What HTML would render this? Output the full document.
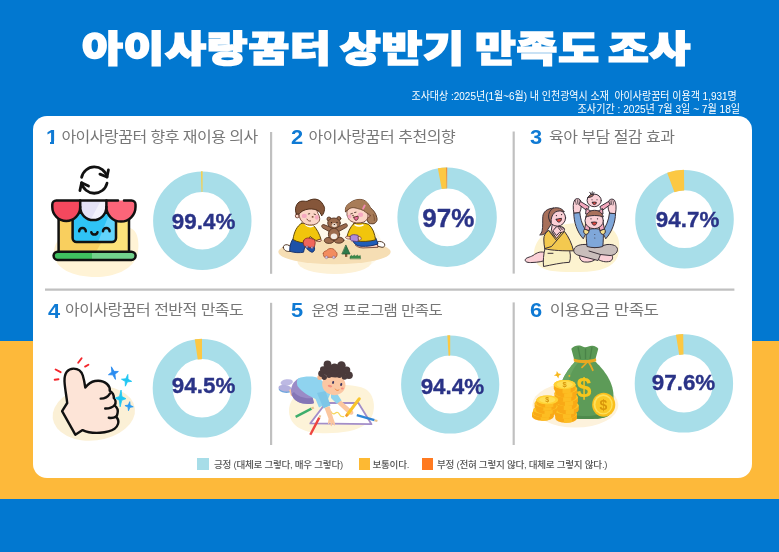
<!DOCTYPE html>
<html lang="ko">
<head>
<meta charset="utf-8">
<title>아이사랑꿈터 상반기 만족도 조사</title>
<style>
html,body{margin:0;padding:0;}
body{width:779px;height:552px;position:relative;overflow:hidden;background:#0278d0;font-family:"Liberation Sans","Noto Sans CJK KR",sans-serif;}
.band{position:absolute;left:0;top:340.5px;width:779px;height:158.5px;background:#fdb93a;}
.card{position:absolute;left:32.5px;top:115.7px;width:719.2px;height:362.8px;background:#fff;border-radius:14px;}
.title{position:absolute;top:20px;color:#fff;font-family:"Liberation Sans","Noto Sans CJK KR",sans-serif;font-weight:900;font-size:41px;line-height:60px;white-space:nowrap;letter-spacing:0.8px;-webkit-text-stroke:1.9px #fff;transform:scale(1.08,0.88);transform-origin:0 50%;}
.sub{position:absolute;right:40.5px;color:#fff;font-size:11.5px;line-height:13px;white-space:nowrap;text-align:right;transform:scaleX(0.85);transform-origin:100% 50%;}
.num{position:absolute;color:#0f7ad4;font-weight:bold;font-size:19.5px;line-height:20px;white-space:nowrap;transform:scaleX(1.12);transform-origin:0 50%;}
.hd{position:absolute;color:#777;font-family:"Liberation Sans","Noto Sans CJK KR",sans-serif;font-weight:400;font-size:16px;line-height:20px;white-space:nowrap;letter-spacing:-0.52px;transform:scaleY(0.9);transform-origin:0 50%;}
.pct{position:absolute;color:#2a3387;-webkit-text-stroke:0.35px #2a3387;font-weight:bold;font-size:22.4px;line-height:24px;white-space:nowrap;text-align:center;transform:translateX(-50%);}
.lg{position:absolute;top:458px;color:#555;font-family:"Liberation Sans","Noto Sans CJK KR",sans-serif;font-weight:500;font-size:9.6px;line-height:14px;white-space:nowrap;letter-spacing:-0.28px;}
.sq{position:absolute;top:458.3px;width:11.7px;height:11.7px;}
svg.art{position:absolute;left:0;top:0;width:779px;height:552px;}
</style>
</head>
<body>
<div class="band"></div>
<div class="card"></div>

<div class="title" style="left:82.3px;">아이사랑꿈터</div>
<div class="title" style="left:339.9px;">상반기</div>
<div class="title" style="left:475px;">만족도</div>
<div class="title" style="left:607.5px;">조사</div>
<div class="sub" style="top:89.5px;right:41.9px;transform:scaleX(0.868);">조사대상 :2025년(1월~6월) 내 인천광역시 소재&nbsp; 아이사랑꿈터 이용객 1,931명</div>
<div class="sub" style="top:102.5px;right:39.3px;transform:scaleX(0.878);">조사기간 : 2025년 7월 3일 ~ 7월 18일</div>

<svg class="art" viewBox="0 0 779 552">
  <!-- dividers -->
  <g stroke="#c0c0c0" stroke-width="2.2" fill="none">
    <line x1="45" y1="289.6" x2="734.4" y2="289.6"/>
    <line x1="271.1" y1="132" x2="271.1" y2="273.8"/>
    <line x1="513.7" y1="131.5" x2="513.7" y2="273.6"/>
    <line x1="271.1" y1="302.8" x2="271.1" y2="445"/>
    <line x1="513.7" y1="302.4" x2="513.7" y2="445"/>
  </g>
  <!-- ART1 -->
  <g id="art1">
    <path d="M54 253C54 237 70 227 97 227.500C112 227.500 126 224.500 133 229.500C139.500 234.500 139.500 249 136.500 257C131.500 270 114 277 96 277C72 277 54 268 54 253Z" fill="#fff3d6"/>
    <g fill="none" stroke="#111" stroke-width="2.8" stroke-linecap="round" stroke-linejoin="round">
      <path d="M81.6 177.4A13 13 0 0 1 107 177"/>
      <path d="M107 183.2A13 13 0 0 1 81.6 182.8"/>
      <path d="M99.9 174.1L107 177L108.4 169.9"/>
      <path d="M88.5 186.1L81.6 182.8L79.9 190.6"/>
    </g>
    <rect x="58.6" y="212" width="70.4" height="40" fill="#f9cf5e"/>
    <path d="M96 252L118 212H129V252Z" fill="#fce37a"/>
    <rect x="72.6" y="212" width="43.4" height="30" rx="4" fill="#2fc3f5"/>
    <path d="M98 242L110 212H116V238A4 4 0 0 1 112 242Z" fill="#62d4fb"/>
    <g fill="none" stroke="#111" stroke-width="2.5" stroke-linecap="round" stroke-linejoin="round">
      <path d="M58.6 218V251.7M129 218V251.7"/>
      <path d="M72.6 220V238A4 4 0 0 0 76.6 242H112A4 4 0 0 0 116 238V220"/>
      <path d="M79.2 231.3A3.3 3.3 0 0 1 85.8 231.3M103 231.3A3.3 3.3 0 0 1 109.6 231.3M91.3 232.2A3.2 3.2 0 0 0 97.5 232.2"/>
    </g>
    <rect x="53.6" y="251.7" width="82" height="8.2" rx="4.1" fill="#3fbf5f"/>
    <path d="M92 251.7H131.5A4.1 4.1 0 0 1 131.5 259.9H92Z" fill="#72d18c"/>
    <rect x="53.6" y="251.7" width="82" height="8.2" rx="4.1" fill="none" stroke="#111" stroke-width="2.5"/>
    <path d="M52.3 204.5A4 4 0 0 1 56.3 200.5H80.2V207A13.9 13.9 0 0 1 52.3 207Z" fill="#f4485e"/>
    <path d="M80.2 200.5H106.4V207A13.1 13.1 0 0 1 80.2 207Z" fill="#e4e2f6"/>
    <path d="M91 219L101 200.5H106.4V207A13.1 13.1 0 0 1 91 219Z" fill="#f3f2fc"/>
    <path d="M106.4 200.5H131.5A4 4 0 0 1 135.5 204.5V207A14.5 14.5 0 0 1 106.4 207Z" fill="#fb6579"/>
    <g fill="none" stroke="#111" stroke-width="2.5" stroke-linecap="round" stroke-linejoin="round">
      <path d="M56.3 200.5H118M124 200.5H131.5A4 4 0 0 1 135.5 204.5V207A14.5 14.5 0 0 1 106.4 207A13.1 13.1 0 0 1 80.2 207A13.9 13.9 0 0 1 52.3 207V204.5A4 4 0 0 1 56.3 200.5"/>
      <path d="M80.2 200.5V207M106.4 200.5V207"/>
    </g>
  </g>
  <!-- /ART1 -->
  <!-- ART4 -->
  <g id="art4">
    <ellipse cx="93.8" cy="413.3" rx="41.4" ry="27.2" fill="#fbf0d6" transform="rotate(-7 93.8 413.3)"/>
    <path d="M75.3 434.7L62.1 411.1L67.2 403C66.5 396 64.8 388 64.5 381.2C64.2 373 68 368.6 73.5 368.6C79 368.6 81.6 371.5 82.8 375.5C84 379.5 84.8 384 85.3 387.6C88 384 91 381.6 95 381C99.5 380.3 104 381.2 107 384C109.2 386 110.2 388 109.7 390.8C112.5 392.5 114 395 113.8 398C115.8 400 116 403 114.6 405.4C117.2 407.5 118.3 410 117.6 413C117.3 414.8 116.8 416 116.1 417C118.3 419 118.8 421.5 118 424C117.2 426.5 116.2 427.8 114.6 428.8C110.5 431.5 105 432.4 100 432.8C94 433.2 87.5 432.5 82.6 430.1Z" fill="#fde4d7" stroke="#111" stroke-width="2.4" stroke-linejoin="round"/>
    <g fill="none" stroke="#111" stroke-width="2.4" stroke-linecap="round">
      <path d="M100.7 398.6C104.5 398.6 107.8 397 109.9 393.6"/>
      <path d="M105.2 408.5C109 408.6 112.4 407.6 114.5 405.3"/>
      <path d="M108.8 417.8C111.5 418.2 114.2 417.8 116.2 416.4"/>
    </g>
    <g fill="none" stroke="#f3262b" stroke-width="1.9" stroke-linecap="round">
      <path d="M55.6 369.5L60.6 372.2M54.7 379.8L58.5 379.2M78.2 362.8L81.6 358.2M85.1 366.6L88.4 364.7"/>
    </g>
    <path d="M0.00 -6.60L1.14 -1.45L5.20 0.00L1.14 1.45L0.00 6.60L-1.14 1.45L-5.20 0.00L-1.14 -1.45Z" transform="translate(113.4 373.1) rotate(-18)" fill="#2b8cf0" stroke="#2b8cf0" stroke-width="0.8" stroke-linejoin="round"/>
    <path d="M0.00 -6.00L1.14 -1.32L5.20 0.00L1.14 1.32L0.00 6.00L-1.14 1.32L-5.20 0.00L-1.14 -1.32Z" transform="translate(126.6 380.3) rotate(12)" fill="#1fc6f2" stroke="#1fc6f2" stroke-width="0.8" stroke-linejoin="round"/>
    <path d="M0.00 -8.40L1.19 -1.85L5.40 0.00L1.19 1.85L0.00 8.40L-1.19 1.85L-5.40 0.00L-1.19 -1.85Z" transform="translate(120.6 398.4) rotate(3)" fill="#1fc6f2" stroke="#1fc6f2" stroke-width="0.8" stroke-linejoin="round"/>
    <path d="M0.00 -4.60L0.92 -1.01L4.20 0.00L0.92 1.01L0.00 4.60L-0.92 1.01L-4.20 0.00L-0.92 -1.01Z" transform="translate(129.1 406.2) rotate(8)" fill="#2b9cf2" stroke="#2b9cf2" stroke-width="0.8" stroke-linejoin="round"/>
  </g>
  <!-- /ART4 -->
  <!-- ART6 -->
  <g id="art6">
    <ellipse cx="575.4" cy="405" rx="43" ry="22.600" fill="#fdf2dc"/>
    <path d="M574.3 360L571.3 348.8C574 345.5 577.5 345 580 345.6C582 346.2 583.5 347.4 585.2 347.3C587.5 347.2 589.5 345.6 592.5 345.8C595 346 597 347 598.3 348.8L595.2 360Z" fill="#5a9855"/>
    <path d="M578 347L580.5 359M585.5 348.5V359M592 347L590 359" stroke="#4a8348" stroke-width="1.3" fill="none"/>
    <path d="M575.3 361.5C570 367 559 380 559 396C559 406 561 413 565 416C570 419 580 419 586 419C593 419 603 419 608 416C612 413 613.5 406 613.5 396C613.5 380 601 367 595.2 361.5Z" fill="#5d9b58"/>
    <path d="M575.3 361.5C570 367 559 380 559 396C559 406 561 413 565 416C570 419 580 419 586 419C576 417 568 410 567 398C566 384 571 370 579 361.5Z" fill="#6aa663"/>
    <path d="M565 416C570 419 580 419 586 419C593 419 603 419 608 416C610 414.500 611.5 412 612.300 409C606 414 596 416 586 416C576 416 567 414 561.500 410C562.300 412.500 563.500 415 565 416Z" fill="#4f8b4c"/>
    <path d="M573.6 358.4C580 360.6 590 360.6 596 358.2L596.300 361.300C590 363.800 580 363.800 573.900 361.600Z" fill="#e9a822"/>
    <path d="M588 361C590 364 591.500 367 592.800 370.200M588 361C586 363.500 584 365.500 582 367.400" stroke="#e9a822" stroke-width="1.8" fill="none" stroke-linecap="round"/>
    <text x="584" y="397.300" text-anchor="middle" font-family="Liberation Sans, sans-serif" font-weight="bold" font-size="27" fill="#f6c61b">$</text>
    <path d="M555.20 414.00V418.20A10.9 4.6 0 0 0 577.00 418.20V414.00Z" fill="#f9a916"/>
    <path d="M563.92 418.37V422.71A10.9 4.6 0 0 0 572.10 422.06V417.68Z" fill="#fdbd22"/>
    <ellipse cx="566.10" cy="414.00" rx="10.9" ry="4.6" fill="#fcc326"/>
    <path d="M554.20 409.80V414.00A10.9 4.6 0 0 0 576.00 414.00V409.80Z" fill="#f9a916"/>
    <path d="M562.92 414.17V418.51A10.9 4.6 0 0 0 571.10 417.86V413.48Z" fill="#fdbd22"/>
    <ellipse cx="565.10" cy="409.80" rx="10.9" ry="4.6" fill="#fcc326"/>
    <path d="M557.00 405.60V409.80A10.9 4.6 0 0 0 578.80 409.80V405.60Z" fill="#f9a916"/>
    <path d="M565.72 409.97V414.31A10.9 4.6 0 0 0 573.90 413.66V409.28Z" fill="#fdbd22"/>
    <ellipse cx="567.90" cy="405.60" rx="10.9" ry="4.6" fill="#fcc326"/>
    <path d="M555.00 401.40V405.60A10.9 4.6 0 0 0 576.80 405.60V401.40Z" fill="#f9a916"/>
    <path d="M563.72 405.77V410.11A10.9 4.6 0 0 0 571.90 409.46V405.08Z" fill="#fdbd22"/>
    <ellipse cx="565.90" cy="401.40" rx="10.9" ry="4.6" fill="#fcc326"/>
    <path d="M556.20 397.20V401.40A10.9 4.6 0 0 0 578.00 401.40V397.20Z" fill="#f9a916"/>
    <path d="M564.92 401.57V405.91A10.9 4.6 0 0 0 573.10 405.26V400.88Z" fill="#fdbd22"/>
    <ellipse cx="567.10" cy="397.20" rx="10.9" ry="4.6" fill="#fcc326"/>
    <path d="M554.40 393.00V397.20A10.9 4.6 0 0 0 576.20 397.20V393.00Z" fill="#f9a916"/>
    <path d="M563.12 397.37V401.71A10.9 4.6 0 0 0 571.30 401.06V396.68Z" fill="#fdbd22"/>
    <ellipse cx="565.30" cy="393.00" rx="10.9" ry="4.6" fill="#fcc326"/>
    <path d="M555.40 388.80V393.00A10.9 4.6 0 0 0 577.20 393.00V388.80Z" fill="#f9a916"/>
    <path d="M564.12 393.17V397.51A10.9 4.6 0 0 0 572.30 396.86V392.48Z" fill="#fdbd22"/>
    <ellipse cx="566.30" cy="388.80" rx="10.9" ry="4.6" fill="#fcc326"/>
    <path d="M553.80 384.60V388.80A10.9 4.6 0 0 0 575.60 388.80V384.60Z" fill="#f9a916"/>
    <path d="M562.52 388.97V393.31A10.9 4.6 0 0 0 570.70 392.66V388.28Z" fill="#fdbd22"/>
    <ellipse cx="564.70" cy="384.60" rx="10.9" ry="4.6" fill="#fcc326"/>
    <ellipse cx="564.7" cy="384.6" rx="10.9" ry="4.6" fill="#ffd234"/>
    <ellipse cx="564.7" cy="384.6" rx="8.07" ry="3.31" fill="#ffdf55"/>
    <text x="564.7" y="387.2" text-anchor="middle" font-family="Liberation Sans, sans-serif" font-weight="bold" font-size="7.5" fill="#d8960a">$</text>
    <path d="M532.00 413.00V416.30A10.9 4.4 0 0 0 553.80 416.30V413.00Z" fill="#f9a916"/>
    <path d="M540.72 417.18V420.61A10.9 4.4 0 0 0 548.89 420.00V416.52Z" fill="#fdbd22"/>
    <ellipse cx="542.90" cy="413.00" rx="10.9" ry="4.4" fill="#fcc326"/>
    <path d="M533.20 409.70V413.00A10.9 4.4 0 0 0 555.00 413.00V409.70Z" fill="#f9a916"/>
    <path d="M541.92 413.88V417.31A10.9 4.4 0 0 0 550.09 416.70V413.22Z" fill="#fdbd22"/>
    <ellipse cx="544.10" cy="409.70" rx="10.9" ry="4.4" fill="#fcc326"/>
    <path d="M535.80 406.40V409.70A10.9 4.4 0 0 0 557.60 409.70V406.40Z" fill="#f9a916"/>
    <path d="M544.52 410.58V414.01A10.9 4.4 0 0 0 552.69 413.40V409.92Z" fill="#fdbd22"/>
    <ellipse cx="546.70" cy="406.40" rx="10.9" ry="4.4" fill="#fcc326"/>
    <path d="M534.60 403.10V406.40A10.9 4.4 0 0 0 556.40 406.40V403.10Z" fill="#f9a916"/>
    <path d="M543.32 407.28V410.71A10.9 4.4 0 0 0 551.50 410.10V406.62Z" fill="#fdbd22"/>
    <ellipse cx="545.50" cy="403.10" rx="10.9" ry="4.4" fill="#fcc326"/>
    <path d="M536.40 399.80V403.10A10.9 4.4 0 0 0 558.20 403.10V399.80Z" fill="#f9a916"/>
    <path d="M545.12 403.98V407.41A10.9 4.4 0 0 0 553.29 406.80V403.32Z" fill="#fdbd22"/>
    <ellipse cx="547.30" cy="399.80" rx="10.9" ry="4.4" fill="#fcc326"/>
    <ellipse cx="547.3" cy="399.8" rx="10.9" ry="4.4" fill="#ffd234"/>
    <ellipse cx="547.3" cy="399.8" rx="8.07" ry="3.17" fill="#ffdf55"/>
    <text x="547.3" y="402.2" text-anchor="middle" font-family="Liberation Sans, sans-serif" font-weight="bold" font-size="7" fill="#d8960a">$</text>
    <ellipse cx="603.7" cy="404.7" rx="11.6" ry="12" fill="#f9bf1c"/>
    <ellipse cx="603.2" cy="404.4" rx="9.6" ry="10.2" fill="#fde05a"/>
    <ellipse cx="603.4" cy="404.6" rx="8" ry="8.600" fill="#fbc926"/>
    <text x="603.5" y="409.700" text-anchor="middle" font-family="Liberation Sans, sans-serif" font-weight="bold" font-size="14" fill="#d8960a">$</text>
    <path d="M557.6 371L558.700 373.700L561.400 374.800L558.700 375.900L557.600 378.600L556.500 375.900L553.800 374.800L556.500 373.700Z" fill="#f8b81c" transform="rotate(-12 557.6 374.8)"/>
    <path d="M569.3 374.700L570.500 375.900L569.300 377.100L568.100 375.900Z" fill="#f8b81c"/>
  </g>
  <!-- /ART6 -->
  <!-- ART5 -->
  <g id="art5">
    <path d="M289 412C288 399 300 388 322 386C340 384.500 362 384 369 392C376 400 376 416 366 424C356 432 336 434 318 433C300 432 290 424 289 412Z" fill="#fdf3d8"/>
    <path d="M325.8 403H358.4L371.5 424.2L310.3 423.4Z" fill="#fff" stroke="#a38ec9" stroke-width="1.800" stroke-linejoin="round"/>
    <path d="M330.7 411.300C332 414 334 414.500 335.500 413C337 411.600 338.500 412.500 339.500 414.500C340.500 416.300 342 417 343.700 416.600" fill="none" stroke="#f6d75a" stroke-width="1.3" stroke-linecap="round"/>
    <!-- shoes and legs -->
    <ellipse cx="286.7" cy="382.4" rx="6.2" ry="3.1" fill="#bdb9e3" transform="rotate(-8 286.7 382.4)"/>
    <ellipse cx="285.2" cy="389.600" rx="6.600" ry="3.300" fill="#6fa6dd" transform="rotate(8 285.2 389.600)"/>
    <ellipse cx="285" cy="388.200" rx="6.600" ry="3.300" fill="#b4b0de" transform="rotate(8 285 388.200)"/>
    <path d="M289 390L294 388L297 396L291 396Z" fill="#fbc7a0"/>
    <!-- pants -->
    <path d="M297 379.500C292 383 290 389 291.500 394C293 399 297 402.500 303 403.500C308 404.300 312 404 314 403L311 390L300 378Z" fill="#9a8bc7"/>
    <path d="M291.500 394C293 399 297 402.500 303 403.500C308 404.300 312 404 314 403L312.500 398C306 399 298 397 294 392Z" fill="#8576b6"/>
    <!-- shirt body -->
    <path d="M298 378.500C303 376.500 310 376 315 377C320 378 324 382 326.500 386L331 392L326 404L319 407.500L315.500 399C309 396 302 392 297.500 386C296.500 383 296.800 380 298 378.500Z" fill="#8fd3ef"/>
    <!-- left arm down -->
    <path d="M317 393L325.500 391L330.500 405.500L323.500 408.500Z" fill="#7ec6e6"/>
    <path d="M324.500 408L329.500 406L333.500 419C334.500 421.500 335.500 424 335 425.500C334 425.800 333.200 424.500 332.500 423C332.300 424.800 332 426.300 331 426.200C330.300 425 330.500 423.500 330.300 422C329.500 423.500 328.800 424.300 328 424C328 422 328.500 420 328.500 418.500Z" fill="#fbc7a0"/>
    <!-- right arm -->
    <path d="M331 392L337 393.500L341.500 400.500L337 404L331 398Z" fill="#8fd3ef"/>
    <path d="M337.200 403.500L341 400.800L350.500 409C352.500 410 353.800 411.500 353.300 413.500C352.300 415.300 349.800 415 348 413.500Z" fill="#fbc7a0"/>
    <!-- neck / face -->
    <circle cx="319.800" cy="377.600" r="2.500" fill="#f5b98f"/>
    <ellipse cx="333.800" cy="384.600" rx="11.700" ry="10.500" fill="#fbc7a3" transform="rotate(12 333.8 384.6)"/>
    <!-- hair -->
    <g fill="#4a3a3b">
      <ellipse cx="335.300" cy="370.800" rx="12.500" ry="6.600"/>
      <circle cx="327.500" cy="364.500" r="3.900"/>
      <circle cx="341.400" cy="365.500" r="4.300"/>
      <circle cx="349" cy="375.300" r="3.800"/>
      <circle cx="346.700" cy="370" r="3.600"/>
      <circle cx="321.600" cy="373.600" r="3.400"/>
      <circle cx="323.300" cy="369.600" r="3.300"/>
      <circle cx="334.500" cy="367" r="3.600"/>
      <circle cx="324.300" cy="377.300" r="2.600"/>
      <circle cx="344.500" cy="377" r="2.800"/>
      <circle cx="329" cy="375.300" r="2.600"/>
      <circle cx="339.500" cy="375.300" r="2.600"/>
    </g>
    <ellipse cx="333.100" cy="382.400" rx="1" ry="1.500" fill="#3b3560" transform="rotate(15 333.1 382.4)"/>
    <ellipse cx="341.200" cy="384.500" rx="1" ry="1.500" fill="#3b3560" transform="rotate(15 341.2 384.5)"/>
    <ellipse cx="330" cy="386.100" rx="2.300" ry="1.200" fill="#f58f7f" transform="rotate(12 330 386.1)"/>
    <ellipse cx="342.300" cy="388.500" rx="1.500" ry="1.100" fill="#f58f7f"/>
    <path d="M335.200 389C335.800 390.500 337.800 391 339 389.900" fill="none" stroke="#f0873f" stroke-width="0.900" stroke-linecap="round"/>
    <!-- pencils -->
    <path d="M295.600 416.900L311.500 408.600" stroke="#3eae6c" stroke-width="2.400" stroke-linecap="butt"/>
    <path d="M311.500 408.600L313.800 407.400" stroke="#e9c48f" stroke-width="2.200"/>
    <path d="M310.300 434.800L319.300 417.600" stroke="#ee4540" stroke-width="2.400"/>
    <path d="M319.300 417.600L320.400 415.400" stroke="#e9c48f" stroke-width="2"/>
    <path d="M347.300 414.600L359.200 398.900" stroke="#f9c52b" stroke-width="3.200" stroke-linecap="round"/>
    <path d="M345.900 416.500L347.500 414.300" stroke="#f29a2e" stroke-width="2.400"/>
    <path d="M356.800 415.200L374.500 420.200" stroke="#2f86d6" stroke-width="2.400"/>
    <path d="M374.500 420.200L377.400 421" stroke="#e9c48f" stroke-width="2"/>
  </g>
  <!-- /ART5 -->
  <!-- ART2 -->
  <g id="art2" stroke-linejoin="round" stroke-linecap="round">
    <ellipse cx="338" cy="246" rx="44" ry="28" fill="#fef9ec"/>
    <ellipse cx="334.500" cy="262" rx="37" ry="12" fill="#fdf1d6"/>
    <ellipse cx="334.500" cy="252" rx="56.200" ry="12.200" fill="#f6deb4"/>
    <!-- teddy -->
    <g fill="#9b6b4d" stroke="#5a3a28" stroke-width="0.950">
      <path d="M331 232.500L322.800 228C321 227 321.600 224.200 323.800 224.600L332.500 228Z"/>
      <path d="M337 232.500L346.300 227.300C348.200 226.200 347.400 223.300 345.200 223.800L335.500 228Z"/>
      <ellipse cx="329.300" cy="240.400" rx="4.900" ry="3"/>
      <ellipse cx="339" cy="240.200" rx="4.900" ry="3"/>
      <ellipse cx="334" cy="234.300" rx="5.600" ry="6"/>
      <circle cx="329" cy="219" r="2"/>
      <circle cx="338.800" cy="218.500" r="2"/>
      <ellipse cx="334" cy="223.100" rx="6.300" ry="5.100"/>
    </g>
    <ellipse cx="334" cy="236.300" rx="3.200" ry="2.800" fill="#f3ebe3"/>
    <ellipse cx="334.400" cy="225.200" rx="2.600" ry="2.100" fill="#ead8c8"/>
    <circle cx="331.500" cy="222.600" r="0.550" fill="#2a1a12"/><circle cx="337" cy="222.400" r="0.550" fill="#2a1a12"/>
    <ellipse cx="334.400" cy="224.500" rx="0.800" ry="0.550" fill="#2a1a12"/>
    <!-- boy -->
    <path d="M283.300 247.500C283 245.500 285 244.300 287.500 244.800L291 246.500L290 251.300C287 252 283.800 250.500 283.300 247.500Z" fill="#fff" stroke="#4a3020" stroke-width="0.950"/>
    <path d="M292.500 239.500C290.500 243 289.500 247 289.800 251.300C294 252.800 300 253 303.500 252.200C304 250 304.500 248 305 246.500C307 249 309.500 251.500 312 252.300C314 252 315 250 314.500 247.500L312.500 241.500Z" fill="#1e52a8" stroke="#16306a" stroke-width="0.950"/>
    <path d="M301.500 223.300C297 226 294 232 293 239.500C297 242 303 243.300 308 243L310 236.500C312 238 314 239.500 316.500 240.800L321 239.300C319.500 234 316.500 228.500 313.500 225.500C310 223.500 305 222.800 301.500 223.300Z" fill="#f1c50c" stroke="#5a4208" stroke-width="0.950"/>
    <path d="M316.300 240.800C317.500 241.800 320 242 321.200 240.800C321.600 240 321.300 239.400 320.800 239.200Z" fill="#fbd0c0" stroke="#6a3a2a" stroke-width="0.850"/>
    <path d="M305.500 224.500C307.500 226.500 310.500 227 313 226" fill="none" stroke="#fff" stroke-width="1.600"/>
    <path d="M303.500 241C304 238.500 307 237.500 310 238.200L313.500 239.300C315 240 315.500 242 315 244C314.800 246 314 247.500 312.500 247.800L305 246.500C303.500 245.500 303 243 303.500 241Z" fill="#f0655b" stroke="#8a2a24" stroke-width="0.850"/>
    <circle cx="307" cy="246.800" r="1.100" fill="#c9b6d9" stroke="#6a4a6a" stroke-width="0.400"/><circle cx="312" cy="247.600" r="1.100" fill="#c9b6d9" stroke="#6a4a6a" stroke-width="0.400"/>
    <circle cx="297.300" cy="215.900" r="2" fill="#fbd5c6" stroke="#6a3a2a" stroke-width="0.850"/>
    <path d="M299.300 211C298.300 214.500 299.300 218.500 302 221.600C304 223.800 306.500 224.900 309.500 225C312.500 225.100 315 224.600 316.800 223.500C318.800 222.300 319.800 220.500 319.700 218.500C319.600 216.500 318.800 215 318 213.500L316 208L303 208Z" fill="#fbd5c6" stroke="#6a3a2a" stroke-width="0.850"/>
    <ellipse cx="304.300" cy="215.900" rx="2.600" ry="2.200" fill="#f6a9c1"/>
    <ellipse cx="316.800" cy="217.300" rx="1.900" ry="2.400" fill="#f6a9c1"/>
    <path d="M296.300 214C295.300 211.500 295.300 208.500 296 206.400C297 203.500 298.800 201.800 300.800 201.300C303 200.700 305 201.500 307.100 201.300C309.500 200 312.500 198.900 315.300 199.100C318.800 199.400 321.500 201.500 323 204.500C324.300 206.500 324.800 208 324.500 209.600C324.300 212 323.300 214.300 321.700 215.900C320.800 213.500 319.500 211.800 317.900 210.700C316.800 210 315.500 209.500 314.100 209.300C312.500 209 310.800 208.900 309 209C306.800 209.200 304.600 209.900 302.700 210.900C301.500 211.600 300.400 212.600 299.500 213.600C298.500 214.200 297.300 214.300 296.300 214Z" fill="#85563a" stroke="#4a2a16" stroke-width="0.950"/>
    <path d="M308.300 214L309.700 213.700M314.100 214.100L315.400 214.500" stroke="#3a2218" stroke-width="0.800" fill="none"/>
    <ellipse cx="312.600" cy="216.900" rx="1" ry="0.800" fill="#7a4a35"/>
    <path d="M307 219.100C307.600 220.600 309 221.300 310.500 221" fill="none" stroke="#5a2a1a" stroke-width="0.800"/>
    <!-- girl -->
    <path d="M377.600 241.800C380 240.800 383.500 241.800 384.600 244C385.200 246 384 247.500 382 247.300L378 246.300Z" fill="#fff" stroke="#4a3020" stroke-width="0.950"/>
    <path d="M355.500 245.300C358 247.800 362 248.300 366 247.800L378 247.300L377.500 244.500L358 243.500Z" fill="#fbd0c0" stroke="#6a3a2a" stroke-width="0.850"/>
    <path d="M352.600 240C353.500 243.500 356.500 246 361 246.300C367 246.600 373.500 245.800 378 243.800L375.800 238L356 238Z" fill="#1f5db9" stroke="#16306a" stroke-width="0.950"/>
    <path d="M353.500 223.800C350 227.500 347.800 232.500 347 236.800L351 238.300L353.800 235C354.300 237.500 354.800 239.500 355.200 240.800C362 242 370 241.500 375.500 239.800C375 234 372.500 227.500 368.500 224.300C364 222.500 357.500 222.500 353.500 223.800Z" fill="#f1c50c" stroke="#5a4208" stroke-width="0.950"/>
    <path d="M355 224.800C357.500 226.300 360.500 226.300 363 225" fill="none" stroke="#fff" stroke-width="1.500"/>
    <path d="M350 236.500C350.500 235 353 234.300 355.500 234.800L358 235.300C359 236 359.200 238 358.800 239.500C358.500 240.800 357.500 241.500 356.500 241.500L351.500 240.800C350 240 349.600 238 350 236.500Z" fill="#b08bd9" stroke="#5a3a7a" stroke-width="0.850"/>
    <path d="M345.800 236.800C346.500 236 348.500 236 350.200 236.800L350 239C348.500 239.300 346.500 238.800 345.800 238Z" fill="#fbd0c0" stroke="#6a3a2a" stroke-width="0.700"/>
    <path d="M358.300 236.500C359.500 236 361 236.800 361.300 238.300C361.300 239.800 360 240.500 358.800 240.300Z" fill="#fbd0c0" stroke="#6a3a2a" stroke-width="0.700"/>
    <path d="M345.400 211.500C345.200 210 345.400 208.500 346 207C346.800 205.300 348 204 349.500 203.200C352 201 355.500 199.600 359 199.400C361.500 199.300 363.800 199.900 365.300 201C367.500 202.600 369.200 205 370.400 207.700C373.400 209.800 376.200 213.800 376.900 217.800C377.300 219.200 377.100 220.500 376.400 221.600C375.600 222.800 374.400 223.600 373 223.800C371.300 224 369.800 223.600 368.500 222.900L364 214L348 210Z" fill="#a87c58" stroke="#5a3822" stroke-width="0.950"/>
    <circle cx="368.300" cy="215.600" r="1.800" fill="#fbd5c6" stroke="#6a3a2a" stroke-width="0.800"/>
    <path d="M347.800 209.500C346.800 211 346.700 212.500 347 213.400C346.800 215 347.200 216.300 347.900 217.200C348.300 218.800 349.300 220.100 350.800 221C352.500 222.100 354.500 222.700 356.500 222.900C359 223.100 361.500 222.900 363.400 222.200C365 221.500 366.300 220.500 367.200 219.100C368 217.500 368.200 215.500 367.800 213.500L364 207L352 206Z" fill="#fbd5c6" stroke="#6a3a2a" stroke-width="0.850"/>
    <path d="M345.400 211.500C345.200 210 345.400 208.500 346 207C346.800 205.300 348 204 349.500 203.200C352 201 355.500 199.600 359 199.400C361.500 199.300 363.800 199.900 365.300 201C367.500 202.600 369.200 205 370.400 207.700L368.300 214.200C367.800 213.500 367.300 213.200 366.600 213.100C365.800 212 364.700 211.200 363.400 210.500C361.700 209.600 359.700 209 357.700 208.600C355.800 208 353.800 207.500 352 207.700C350.500 207.900 349.200 208.600 348.200 209.600C347.300 210.300 346.300 211 345.400 211.500Z" fill="#a87c58" stroke="none"/>
    <path d="M368.300 214.200C367.800 213.500 367.300 213.200 366.600 213.100C365.800 212 364.700 211.200 363.400 210.500C361.700 209.600 359.700 209 357.700 208.600C355.800 208 353.800 207.500 352 207.700C350.500 207.900 349.200 208.600 348.200 209.600C347.300 210.300 346.300 211 345.400 211.500" fill="none" stroke="#5a3822" stroke-width="0.800"/>
    <ellipse cx="349.600" cy="216.600" rx="1.900" ry="2" fill="#f6a9c1"/>
    <ellipse cx="360.600" cy="214.700" rx="2.600" ry="2.200" fill="#f6a9c1"/>
    <path d="M353.800 217.200C355 216.900 356.800 216.400 358 216.100C358.600 217.800 358.100 219.500 356.800 220.200C355.500 220.800 354.100 219.500 353.800 217.200Z" fill="#ea6c9c" stroke="#4a2418" stroke-width="0.800"/>
    <path d="M350.800 213.900L352.400 213.400M354.600 212.500L356 212.200" stroke="#3a2218" stroke-width="0.800" fill="none"/>
    <ellipse cx="353" cy="215.500" rx="0.700" ry="0.800" fill="#4a2a1c"/>
    <path d="M363.100 208.600L364.700 205.500" stroke="#f08ab0" stroke-width="1.900"/>
    <path d="M373.300 214.500C374.300 216.500 374.600 218.500 374.300 220.500" stroke="#6a4228" stroke-width="0.700" fill="none"/>
    <!-- toys on floor -->
    <path d="M323.300 253.500C323.300 251.800 324.800 251 326.500 250.800C327.500 249 329.500 248.300 331.500 248.500C333.500 248.700 335 250 335.500 251.500C336.800 252 337.300 253.300 337 255C336.800 256.500 336 257.300 335 257.300H325C323.800 257 323.300 255.500 323.300 253.500Z" fill="#f28c5f" stroke="#b05a38" stroke-width="0.850"/>
    <circle cx="326.500" cy="257.300" r="1.400" fill="#d5c3e0" stroke="#7a5a7a" stroke-width="0.400"/><circle cx="333.800" cy="257.300" r="1.400" fill="#d5c3e0" stroke="#7a5a7a" stroke-width="0.400"/>
    <rect x="345" y="253.500" width="2.300" height="3.400" fill="#8a5a3a"/>
    <path d="M346 245.300L350 254H342.200Z" fill="#2f7a4b" stroke="#1e5a34" stroke-width="0.700"/>
    <path d="M350 258.500V256.500L351.500 255.300L352.800 256.300L354.300 255L355.800 256.200L357.300 255L358.800 256.200L360.300 255.500L360.600 258.500Z" fill="#3a8a4b" stroke="#1e5a34" stroke-width="0.400"/>
  </g>
  <!-- /ART2 -->
  <!-- ART3 -->
  <g id="art3" stroke-linejoin="round" stroke-linecap="round">
    <path d="M534 254C534 241 545 230 560 225.500C575 221.500 598 221.500 610 228C620 233.500 621 247 617.500 257C613.500 267 600 272 580 272C560 272 547 272 540 266.500C535 263 534 259 534 254Z" fill="#fdf3d0"/>
    <!-- mom foot -->
    <path d="M545.500 252.800C541 250.800 537 252.500 533 255.500C529.500 257.500 525.500 257.500 525.200 260C525 262 528 262.800 532 262.500C538 262.300 543 261.500 546 260Z" fill="#fbd0d6" stroke="#3a3038" stroke-width="1"/>
    <!-- mom skirt -->
    <path d="M545 248.500C543.500 254 543 261 543.500 266.500C551 265 562 262.500 569.500 262.300C571 258 570.500 252 568.800 248.500Z" fill="#f8efc3" stroke="#3a3038" stroke-width="1"/>
    <path d="M548 253.300H553" fill="none" stroke="#3a3038" stroke-width="1"/>
    <!-- mom shirt -->
    <path d="M548.500 230.500C545.500 232.500 543.800 235.500 543.800 239C543.800 242.500 544.200 246 544.800 248.800C552 250.500 564 251 573.500 250.800C572 244 568.500 236.500 564.500 231.500L560 229.500L555 236Z" fill="#f3c94f" stroke="#3a3038" stroke-width="1"/>
    <path d="M549 231L556.500 240.500M564 232L551.500 246.500L545 248.500" fill="none" stroke="#3a3038" stroke-width="1"/>
    <!-- mom hair back -->
    <path d="M553 208.200C547 208.500 543.200 212 542.800 216.500C542.500 221 543 227 542.200 230.400C541.800 232.500 540.800 234 539.700 234.900C542 235 543.800 234.500 544.700 233.600C546.500 232 547.500 230.500 547.900 229.200L552 223Z" fill="#a8705b" stroke="#3a3038" stroke-width="1"/>
    <!-- mom neck -->
    <path d="M552.300 224L551.300 230.500L556.500 238.500L562.500 231L559 224.500Z" fill="#fbd0d6" stroke="#3a3038" stroke-width="1"/>
    <!-- mom face -->
    <circle cx="557.300" cy="217.900" r="8.300" fill="#fbd0d6" stroke="#3a3038" stroke-width="1"/>
    <path d="M553 208.200C557.500 206.800 562 208.300 564.300 211.800C561.500 210.600 558.300 210.600 555.800 211.800C553.300 213.200 551.600 216 551.200 219.500C551.100 220.500 551.100 221.500 551.300 222.500C549.800 221 548.800 219 548.600 217C548.200 213.500 550 210 553 208.200Z" fill="#a8705b" stroke="#3a3038" stroke-width="1"/>
    <path d="M556.300 219.300C557.800 218.900 560 218.500 561.500 218.300C561.600 220.500 560.300 222 558.900 222.100C557.500 222.100 556.600 220.900 556.300 219.300Z" fill="#e8483f" stroke="#3a3038" stroke-width="1"/>
    <circle cx="556.400" cy="215.600" r="0.650" fill="#2a2028"/><circle cx="561.600" cy="214.600" r="0.650" fill="#2a2028"/>
    <!-- mom hands -->
    <path d="M554.500 229C555 227.300 557 226.300 559 226.500L562.500 227C564.300 227.500 565 229 564.300 230.500C563.500 232 561.500 232.800 559.500 232.300L556.500 235.500L553 231Z" fill="#fbd0d6" stroke="#3a3038" stroke-width="1"/>
    <path d="M560 227.300L562.300 229.800M561.800 227L564 229.300M558.300 227.600L560.500 230.500" fill="none" stroke="#3a3038" stroke-width="1"/>
    <!-- dad pants + feet -->
    <path d="M580 254C582 252 586 252.500 589 254L596 258.500C594 261.500 589 262.500 584.500 262C580.500 261.500 578.500 257.500 580 254Z" fill="#fbd0d6" stroke="#3a3038" stroke-width="1"/>
    <path d="M600 254C603 252 608 252.500 611 254.500C613.500 256.500 613 260 610 261.300C606 262.500 601 261.500 597.500 259Z" fill="#fbd0d6" stroke="#3a3038" stroke-width="1"/>
    <path d="M587 244.500C581 244 575.500 245.500 574 249C573 252 575 254.500 579 255.500L598 260.500L600.500 254.500L610 255.500C614 255.500 617.500 253 617.500 249.500C617.500 246 613 244 607 244.500L595 247.500Z" fill="#c9bebb" stroke="#3a3038" stroke-width="1"/>
    <path d="M600.500 254.500L589 251" fill="none" stroke="#3a3038" stroke-width="1"/>
    <!-- dad arms -->
    <path d="M586.500 231C583 227 580.500 220 579.800 212.300L573.800 212.800C573.800 222 577 232 583 238.500Z" fill="#7fa7d9" stroke="#3a3038" stroke-width="1"/>
    <path d="M602.500 231C606 227 608.800 220 609.500 212.800L615.500 213.300C615.500 222 612 232 606 238.500Z" fill="#7fa7d9" stroke="#3a3038" stroke-width="1"/>
    <!-- dad torso -->
    <path d="M586 230.500C586 236 586.500 242 587 246.500C592 248 598 248 602.800 246.500C603.300 242 603.500 236 603.300 230.500C598 228 591 228 586 230.500Z" fill="#7fa7d9" stroke="#3a3038" stroke-width="1"/>
    <circle cx="594.800" cy="234.500" r="0.500" fill="#3a3038"/><circle cx="594.800" cy="238" r="0.500" fill="#3a3038"/>
    <!-- baby legs and socks -->
    <path d="M586 222L584.500 229.500L589 231L590.500 224Z" fill="#f4a8bd" stroke="#3a3038" stroke-width="1"/>
    <path d="M603 222L604.500 229.500L600 231L598.500 224Z" fill="#f4a8bd" stroke="#3a3038" stroke-width="1"/>
    <path d="M584.300 229.300C583 231 583.500 233.500 585.500 234.300C587.500 234.800 589 233 589 231Z" fill="#f5e08c" stroke="#3a3038" stroke-width="1"/>
    <path d="M604.700 229.300C606 231 605.500 233.500 603.500 234.300C601.500 234.800 600 233 600 231Z" fill="#f5e08c" stroke="#3a3038" stroke-width="1"/>
    <!-- dad hands -->
    <path d="M573.800 212.800C572.800 208 573 202.500 574.800 199.800C576.300 198 578.800 198.300 580.300 200C582 202.800 581.600 208.500 579.800 212.300Z" fill="#fbd0d6" stroke="#3a3038" stroke-width="1"/>
    <path d="M615.500 213.300C616.500 208.500 616.300 203 614.500 200.300C613 198.500 610.500 198.800 609 200.500C607.300 203.300 607.700 209 609.500 212.800Z" fill="#fbd0d6" stroke="#3a3038" stroke-width="1"/>
    <path d="M575.300 200.300L576.300 204.500M577.300 199.600L577.900 204M579.200 200.300L579.300 204.300M614 200.800L613 205M612 200.100L611.400 204.500M610.100 200.800L610 204.800" fill="none" stroke="#3a3038" stroke-width="0.700"/>
    <!-- baby arms -->
    <path d="M588.800 206.500L580.500 201.500L578.800 204.500L586.800 210.500Z" fill="#f4a8bd" stroke="#3a3038" stroke-width="1"/>
    <path d="M600.200 206.500L608.500 201.500L610.200 204.500L602.200 210.500Z" fill="#f4a8bd" stroke="#3a3038" stroke-width="1"/>
    <path d="M586.500 208.500C589 210.500 592 211.500 594.500 211.500C597 211.500 600 210.500 602.500 208.500L603 214H586Z" fill="#f4a8bd" stroke="#3a3038" stroke-width="1"/>
    <!-- dad head -->
    <ellipse cx="594.200" cy="220.800" rx="9.200" ry="7.900" fill="#fbd0d6" stroke="#3a3038" stroke-width="1"/>
    <path d="M585.800 217C586.500 213 590 210.300 594.500 210.300C599 210.300 602.500 213 603.300 217C599 215 590 215 585.800 217Z" fill="#a8705b" stroke="#3a3038" stroke-width="1"/>
    <path d="M591.800 222.300C593.300 221.900 595.300 221.900 596.800 222.300C596.600 224.200 595.500 225.200 594.300 225.200C593 225.200 592 224.200 591.800 222.300Z" fill="#e8483f" stroke="#3a3038" stroke-width="1"/>
    <circle cx="591" cy="218.800" r="0.650" fill="#2a2028"/><circle cx="597.500" cy="218.800" r="0.650" fill="#2a2028"/>
    <!-- baby head -->
    <ellipse cx="594.200" cy="200.400" rx="7.100" ry="6.300" fill="#fbd0d6" stroke="#3a3038" stroke-width="1"/>
    <path d="M588 197.500C589 195 591.500 194 594 194.300C593.500 196 591 197.500 588 197.500Z" fill="#a8705b" stroke="#3a3038" stroke-width="1"/>
    <path d="M591 194.300L589.800 192.300M591.800 194L592.300 191.800M592.500 194.200L594 192.500" fill="none" stroke="#3a3038" stroke-width="1"/>
    <path d="M592.500 202.300C593.500 202 595.300 202 596.300 202.300C596.200 203.800 595.400 204.600 594.400 204.600C593.400 204.600 592.600 203.800 592.500 202.300Z" fill="#e8483f" stroke="#3a3038" stroke-width="1"/>
    <circle cx="592" cy="199.800" r="0.550" fill="#2a2028"/><circle cx="597" cy="199.800" r="0.550" fill="#2a2028"/>
  </g>
  <!-- /ART3 -->
  <!-- DONUTS -->
  <circle cx="202.3" cy="220.7" r="39.00" fill="none" stroke="#a8dee9" stroke-width="20.40"/>
  <path d="M200.92 171.32A49.400000000000006 49.400000000000006 0 0 1 202.64 171.30L202.50 192.10A28.6 28.6 0 0 0 201.50 192.11Z" fill="#f7d04e"/>
  <circle cx="447.1" cy="217.3" r="39.30" fill="none" stroke="#a8dee9" stroke-width="20.80"/>
  <path d="M437.84 168.27A49.900000000000006 49.900000000000006 0 0 1 446.05 167.41L446.50 188.61A28.7 28.7 0 0 0 441.77 189.10Z" fill="#fcc843"/>
  <path d="M446.05 167.41A49.900000000000006 49.900000000000006 0 0 1 447.19 167.40L447.15 188.60A28.7 28.7 0 0 0 446.50 188.61Z" fill="#f58a2a"/>
  <circle cx="684.5" cy="219.2" r="39.10" fill="none" stroke="#a8dee9" stroke-width="20.40"/>
  <path d="M667.16 172.83A49.5 49.5 0 0 1 683.98 169.70L684.20 190.50A28.7 28.7 0 0 0 674.45 192.32Z" fill="#fcc843"/>
  <circle cx="202" cy="388.3" r="39.25" fill="none" stroke="#a8dee9" stroke-width="20.10"/>
  <path d="M194.77 339.33A49.5 49.5 0 0 1 202.00 338.80L202.00 359.30A29.0 29.0 0 0 0 197.76 359.61Z" fill="#fcc843"/>
  <circle cx="450.2" cy="384.5" r="39.10" fill="none" stroke="#a8dee9" stroke-width="20.00"/>
  <path d="M447.36 335.28A49.300000000000004 49.300000000000004 0 0 1 450.20 335.20L450.20 355.60A28.900000000000002 28.900000000000002 0 0 0 448.54 355.65Z" fill="#fcc843"/>
  <circle cx="683.9" cy="383.4" r="39.15" fill="none" stroke="#a8dee9" stroke-width="20.10"/>
  <path d="M675.92 334.65A49.400000000000006 49.400000000000006 0 0 1 683.21 334.00L683.50 354.50A28.900000000000002 28.900000000000002 0 0 0 679.23 354.88Z" fill="#fcc843"/>
  <!-- /DONUTS -->
</svg>

<div class="num" style="left:46.2px;top:127px;">1</div><div style="position:absolute;left:46px;top:141.4px;width:4.3px;height:3.6px;background:#fff"></div><div style="position:absolute;left:53.9px;top:141.4px;width:4.3px;height:3.6px;background:#fff"></div>
<div class="hd" style="left:61.4px;top:126.9px;">아이사랑꿈터 향후 재이용 의사</div>
<div class="num" style="left:291px;top:127px;">2</div>
<div class="hd" style="left:308.4px;top:126.7px;letter-spacing:-0.42px;">아이사랑꿈터 추천의향</div>
<div class="num" style="left:530px;top:127px;">3</div>
<div class="hd" style="left:549px;top:126.9px;">육아 부담 절감 효과</div>
<div class="num" style="left:47.5px;top:300.5px;">4</div>
<div class="hd" style="left:65px;top:300.4px;">아이사랑꿈터 전반적 만족도</div>
<div class="num" style="left:291px;top:300px;">5</div>
<div class="hd" style="left:311.4px;top:299.9px;font-size:15.5px;letter-spacing:-0.57px;">운영 프로그램 만족도</div>
<div class="num" style="left:530px;top:300px;">6</div>
<div class="hd" style="left:549.8px;top:300.1px;font-size:16.8px;letter-spacing:-0.5px;">이용요금 만족도</div>

<div class="pct" style="left:203.6px;top:209.5px;">99.4%</div>
<div class="pct" style="left:448.4px;top:206.3px;font-size:26px;">97%</div>
<div class="pct" style="left:687.6px;top:207.5px;">94.7%</div>
<div class="pct" style="left:203.6px;top:374px;">94.5%</div>
<div class="pct" style="left:452.4px;top:375px;">94.4%</div>
<div class="pct" style="left:683.5px;top:371px;">97.6%</div>

<div class="sq" style="left:197.4px;background:#a7dde8;"></div>
<div class="lg" style="left:214px;">긍정 (대체로 그렇다, 매우 그렇다)</div>
<div class="sq" style="left:358.7px;background:#fdb933;"></div>
<div class="lg" style="left:372.5px;">보통이다.</div>
<div class="sq" style="left:421.8px;background:#ff7a20;"></div>
<div class="lg" style="left:437px;">부정 (전혀 그렇지 않다, 대체로 그렇지 않다.)</div>
</body>
</html>
